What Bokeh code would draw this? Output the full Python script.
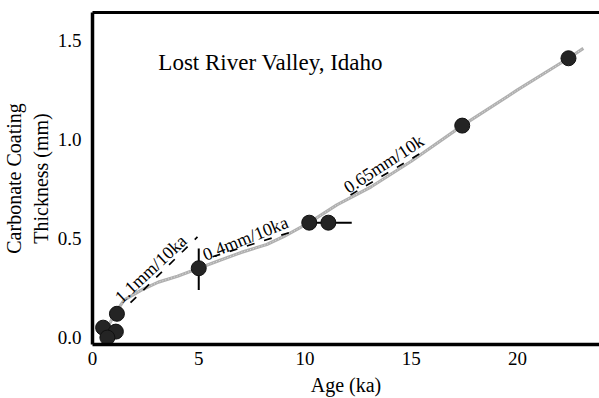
from bokeh.plotting import figure
from bokeh.models import Range1d, LinearAxis, FixedTicker, ColumnDataSource, CustomJSTickFormatter
from bokeh.embed import file_html
from bokeh.resources import INLINE
from bokeh.core.properties import value
import math

# Dated sites: age (ka) and carbonate coating thickness (mm)
age = [0.5, 1.1, 0.7, 1.15, 5.0, 10.2, 11.1, 17.4, 22.4]
thickness = [0.05, 0.03, 0.0, 0.12, 0.35, 0.58, 0.58, 1.07, 1.41]

# Uncertainties
v_err_age = [5.0]
v_err_lo = [0.24]
v_err_hi = [0.45]
h_err_y = [0.58]
h_err_lo = [9.9]
h_err_hi = [12.2]

# Smoothed growth curve
curve_age = [0.4, 0.7, 1.1, 1.5, 2.3, 3.1, 4.0, 5.0, 6.0, 7.0, 8.2, 9.0, 10.2,
             11.5, 13.1, 15.0, 17.4, 20.0, 22.4, 23.1]
curve_thk = [0.0, 0.05, 0.13, 0.19, 0.24, 0.28, 0.31, 0.35, 0.39, 0.43, 0.47,
             0.51, 0.58, 0.67, 0.76, 0.89, 1.07, 1.25, 1.41, 1.46]

# Growth-rate guides: label, dashed segment ends, label anchor, label angle (deg)
rate_labels = ["1.1mm/10ka", "0.4mm/10ka", "0.65mm/10k"]
rate_x0 = [1.79, 5.65, 12.14]
rate_y0 = [0.176, 0.408, 0.72]
rate_x1 = [4.94, 9.65, 15.53]
rate_y1 = [0.508, 0.543, 0.936]
rate_lx = [1.18, 5.22, 11.9]
rate_ly = [0.19, 0.415, 0.75]
rate_angle = [43, 22, 33]

x_ticks = [0, 5, 10, 15, 20]
y_ticks = [0.0, 0.5, 1.0, 1.5]

FONT = "Liberation Serif"

p = figure(width=599, height=398, output_backend="svg", toolbar_location=None,
           x_range=Range1d(0, 23.86), y_range=Range1d(-0.035, 1.641),
           min_border_left=92, min_border_right=0, min_border_top=12,
           min_border_bottom=53)
p.outline_line_color = None
p.grid.visible = False
p.background_fill_color = "white"
p.border_fill_color = "white"

for ax, ticks in ((p.xaxis[0], x_ticks), (p.yaxis[0], y_ticks)):
    ax.ticker = FixedTicker(ticks=ticks)
    ax.axis_line_width = 3.5
    ax.axis_line_color = "black"
    ax.major_tick_out = 0
    ax.major_tick_in = 0
    ax.minor_tick_out = 0
    ax.minor_tick_in = 0
    ax.major_label_text_font = FONT
    ax.major_label_text_font_size = "19px"
    ax.major_label_text_color = "black"
    ax.axis_label_text_font = FONT
    ax.axis_label_text_font_size = "20px"
    ax.axis_label_text_font_style = "normal"
    ax.axis_label_text_color = "black"

p.xaxis[0].major_label_standoff = 7
p.xaxis[0].axis_label = "Age (ka)"
p.xaxis[0].axis_label_standoff = 6
p.yaxis[0].major_label_standoff = 11
p.yaxis[0].axis_label = "Carbonate Coating\nThickness (mm)"
p.yaxis[0].axis_label_standoff = 3
p.yaxis[0].formatter = CustomJSTickFormatter(code="return tick.toFixed(1);")

top = LinearAxis(ticker=FixedTicker(ticks=[]), axis_line_width=3,
                 major_tick_out=0, major_tick_in=0, minor_tick_out=0,
                 minor_tick_in=0, major_label_text_font_size="0px")
p.add_layout(top, "above")

# growth curve
p.line(curve_age, curve_thk, line_color="#b0b0b0", line_width=3.2)
p.line(curve_age, curve_thk, line_color="#e0e0e0", line_width=1, line_dash="1 2")

# rate guides
p.segment(x0=rate_x0, y0=rate_y0, x1=rate_x1, y1=rate_y1, line_color="black",
          line_width=1.7, line_dash="8 10")
src = ColumnDataSource(dict(x=rate_lx, y=rate_ly, t=rate_labels,
                            a=[math.radians(d) for d in rate_angle]))
p.text(x="x", y="y", text="t", angle="a", source=src, text_font=value(FONT),
       text_font_size="18px", text_color="black", text_align="left",
       text_baseline="alphabetic")

# error bars
p.segment(x0=v_err_age, y0=v_err_lo, x1=v_err_age, y1=v_err_hi,
          line_color="black", line_width=2)
p.segment(x0=h_err_lo, y0=h_err_y, x1=h_err_hi, y1=h_err_y,
          line_color="black", line_width=2)

# data points
p.scatter(age, thickness, size=15, fill_color="#242424", line_color="#111111",
          line_width=1)

# site name
p.text(x=[3.1], y=[1.39], text=["Lost River Valley, Idaho"],
       text_font=value(FONT), text_font_size="23px", text_color="black",
       text_align="left", text_baseline="alphabetic")

open("out.html", "w").write(file_html(p, INLINE))
